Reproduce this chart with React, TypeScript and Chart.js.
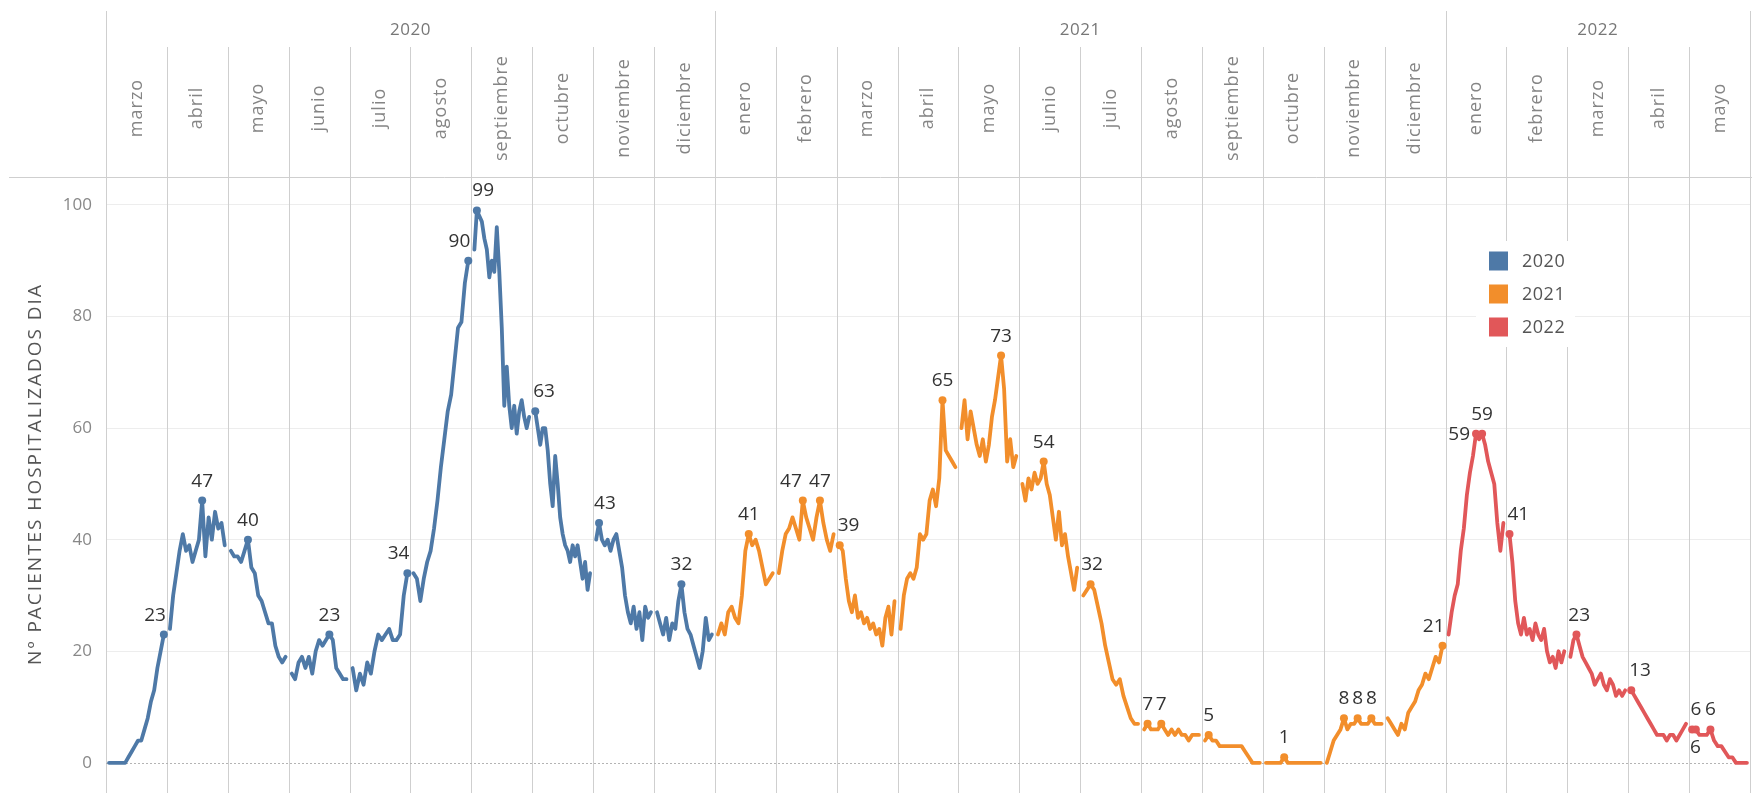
import React, { useEffect, useRef } from "react";
import { Chart, registerables } from "chart.js";

Chart.register(...registerables);

// ---------- data ----------
const yearLabels = ["2020", "2021", "2022"];
const yearColors = ["#4e79a7", "#f28e2b", "#e15759"];
const monthNames = [
  "enero", "febrero", "marzo", "abril", "mayo", "junio",
  "julio", "agosto", "septiembre", "octubre", "noviembre", "diciembre",
];
const yTickValues = [0, 20, 40, 60, 80, 100];
const yAxisTitle = "Nº PACIENTES HOSPITALIZADOS DIA";

// daily hospitalised patients, sampled through each month
const mar2020 = [0, 0, 0, 0, 0, 0, 1, 2, 3, 4, 4, 6, 8, 11, 13, 17, 20, 23];
const abr2020 = [24, 30, 34, 38, 41, 38, 39, 36, 38, 40, 47, 37, 44, 40, 45, 42, 43, 39];
const may2020 = [38, 37, 37, 36, 38, 40, 35, 34, 30, 29, 27, 25, 25, 21, 19, 18, 19];
const jun2020 = [16, 15, 18, 19, 17, 19, 16, 20, 22, 21, 22, 23, 22, 17, 16, 15, 15];
const jul2020 = [17, 13, 16, 14, 18, 16, 20, 23, 22, 23, 24, 22, 22, 23, 30, 34];
const ago2020 = [34, 33, 29, 33, 36, 38, 42, 47, 53, 58, 63, 66, 72, 78, 79, 86, 90];
const sep2020 = [92, 99, 98, 97, 94, 92, 87, 90, 88, 96, 88, 78, 64, 71, 64, 60, 64, 59, 63, 65, 62, 60, 62];
const oct2020 = [63, 60, 57, 60, 60, 56, 50, 46, 55, 50, 44, 41, 39, 38, 36, 39, 37, 39, 36, 33, 36, 31, 34];
const nov2020 = [40, 43, 40, 39, 40, 38, 40, 41, 38, 35, 30, 27, 25, 28, 24, 27, 22, 28, 26, 27];
const dic2020 = [27, 25, 23, 26, 22, 25, 24, 29, 32, 27, 24, 23, 21, 19, 17, 20, 26, 22, 23];
const ene2021 = [23, 25, 23, 27, 28, 26, 25, 30, 38, 41, 39, 40, 38, 35, 32, 33, 34];
const feb2021 = [34, 38, 41, 42, 44, 42, 40, 47, 44, 42, 40, 44, 47, 43, 40, 38, 41];
const mar2021 = [39, 38, 33, 29, 27, 30, 26, 27, 25, 26, 24, 25, 23, 24, 21, 26, 28, 23, 29];
const abr2021 = [24, 30, 33, 34, 33, 35, 41, 40, 41, 47, 49, 46, 51, 65, 56, 55, 54, 53];
const may2021 = [60, 65, 58, 63, 60, 57, 55, 58, 54, 57, 62, 65, 69, 73, 67, 54, 58, 53, 55];
const jun2021 = [50, 47, 51, 49, 52, 50, 51, 54, 50, 48, 44, 40, 45, 39, 41, 37, 34, 31, 35];
const jul2021 = [30, 31, 32, 31, 28, 25, 21, 18, 15, 14, 15, 12, 10, 8, 7, 7];
const ago2021 = [6, 7, 6, 6, 6, 7, 6, 5, 6, 5, 6, 5, 5, 4, 5, 5, 5];
const sep2021 = [4, 5, 4, 4, 3, 3, 3, 3, 3, 3, 3, 2, 1, 0, 0, 0];
const oct2021 = [0, 0, 0, 0, 0, 1, 0, 0, 0, 0, 0, 0, 0, 0, 0, 0];
const nov2021 = [0, 2, 4, 5, 6, 8, 6, 7, 7, 8, 7, 7, 7, 8, 7, 7, 7];
const dic2021 = [8, 7, 6, 5, 7, 6, 9, 10, 11, 13, 14, 16, 15, 17, 19, 18, 21];
const ene2022 = [23, 27, 30, 32, 38, 42, 48, 52, 55, 59, 58, 59, 57, 54, 52, 50, 43, 38, 43];
const feb2022 = [41, 36, 29, 25, 23, 26, 23, 24, 22, 25, 23, 22, 24, 20, 18, 19, 17, 20, 18, 20];
const mar2022 = [19, 22, 23, 21, 19, 18, 17, 16, 14, 15, 16, 14, 13, 15, 14, 12, 13, 12, 13];
const abr2022 = [13, 12, 11, 10, 9, 8, 7, 6, 5, 5, 5, 4, 5, 5, 4, 5, 6, 7];
const may2022 = [6, 6, 5, 5, 5, 6, 4, 3, 3, 2, 1, 1, 0, 0, 0, 0];

const monthSeries = [
  { year: 0, month: 2, values: mar2020 },
  { year: 0, month: 3, values: abr2020 },
  { year: 0, month: 4, values: may2020 },
  { year: 0, month: 5, values: jun2020 },
  { year: 0, month: 6, values: jul2020 },
  { year: 0, month: 7, values: ago2020 },
  { year: 0, month: 8, values: sep2020 },
  { year: 0, month: 9, values: oct2020 },
  { year: 0, month: 10, values: nov2020 },
  { year: 0, month: 11, values: dic2020 },
  { year: 1, month: 0, values: ene2021 },
  { year: 1, month: 1, values: feb2021 },
  { year: 1, month: 2, values: mar2021 },
  { year: 1, month: 3, values: abr2021 },
  { year: 1, month: 4, values: may2021 },
  { year: 1, month: 5, values: jun2021 },
  { year: 1, month: 6, values: jul2021 },
  { year: 1, month: 7, values: ago2021 },
  { year: 1, month: 8, values: sep2021 },
  { year: 1, month: 9, values: oct2021 },
  { year: 1, month: 10, values: nov2021 },
  { year: 1, month: 11, values: dic2021 },
  { year: 2, month: 0, values: ene2022 },
  { year: 2, month: 1, values: feb2022 },
  { year: 2, month: 2, values: mar2022 },
  { year: 2, month: 3, values: abr2022 },
  { year: 2, month: 4, values: may2022 },
];

// ---------- layout / style ----------
const FONT = "'Open Sans', 'Noto Sans', sans-serif";
const PANE_PAD = 0.05;
const W = 1752;
const H = 793;

type Pt = { x: number; y: number | null };

// one dataset per year, with gaps between month panes
const monthPoints: { x: number; y: number; ds: number; idx: number }[][] = [];
const labeled = new Set<string>();
const datasetsData: Pt[][] = yearLabels.map(() => []);
monthSeries.forEach((ms, m) => {
  const arr = datasetsData[ms.year];
  const n = ms.values.length;
  const max = Math.max(...ms.values);
  const pts: { x: number; y: number; ds: number; idx: number }[] = [];
  ms.values.forEach((v, i) => {
    const x = m + PANE_PAD + ((1 - 2 * PANE_PAD) * i) / (n - 1);
    const idx = arr.length;
    arr.push({ x, y: v });
    pts.push({ x, y: v, ds: ms.year, idx });
    if (v === max) labeled.add(ms.year + ":" + idx);
  });
  arr.push({ x: m + 1, y: null });
  monthPoints.push(pts);
});

const setSpacing = (ctx: any, px: number) => {
  if ("letterSpacing" in ctx) ctx.letterSpacing = px + "px";
};

const panesPlugin = {
  id: "panes",
  beforeDatasetsDraw(chart: any) {
    const { ctx, chartArea, scales } = chart;
    const xs = scales.x;
    const ys = scales.y;
    ctx.save();
    ctx.strokeStyle = "#cfcfcf";
    ctx.lineWidth = 1;
    for (let k = 0; k <= monthSeries.length; k++) {
      const px = Math.round(xs.getPixelForValue(k)) + 0.5;
      const isYear =
        k === 0 || k === monthSeries.length || monthSeries[k].year !== monthSeries[k - 1].year;
      ctx.beginPath();
      ctx.moveTo(px, isYear ? 11 : 47);
      ctx.lineTo(px, chart.height);
      ctx.stroke();
    }
    const y0 = Math.round(ys.getPixelForValue(0)) + 0.5;
    ctx.setLineDash([2, 2]);
    ctx.strokeStyle = "#b4b4b4";
    ctx.beginPath();
    ctx.moveTo(chartArea.left, y0);
    ctx.lineTo(chartArea.right, y0);
    ctx.stroke();
    ctx.restore();
  },
  afterDatasetsDraw(chart: any) {
    const { ctx, scales } = chart;
    const xs = scales.x;
    const ys = scales.y;
    ctx.save();
    ctx.font = `19px ${FONT}`;
    ctx.fillStyle = "#333";
    ctx.textBaseline = "alphabetic";
    ctx.textAlign = "left";
    const placed: { x1: number; y1: number; x2: number; y2: number }[] = [];
    const overlaps = (a: any, b: any) => a.x1 < b.x2 && a.x2 > b.x1 && a.y1 < b.y2 && a.y2 > b.y1;
    const h = 13.5;
    const gap = 14;
    monthPoints.forEach((pts, m) => {
      const paneL = xs.getPixelForValue(m) + 1;
      const paneR = xs.getPixelForValue(m + 1) - 1;
      const px = pts.map((p) => ({ x: xs.getPixelForValue(p.x), y: ys.getPixelForValue(p.y) }));
      const lab = pts
        .map((p, i) => ({ p, i }))
        .filter(({ p }) => labeled.has(p.ds + ":" + p.idx))
        .reverse();
      const clampBox = (x1: number, w: number) => Math.min(Math.max(x1, paneL), paneR - w);
      lab.forEach(({ p, i }) => {
        const { x, y } = px[i];
        const text = String(p.y);
        const w = ctx.measureText(text).width;
        const ax = clampBox(x - w / 2, w);
        const cands = [
          { x1: ax, y1: y - gap - h, x2: ax + w, y2: y - gap, side: false },
          { x1: x - 1 - w, y1: y - gap - h, x2: x - 1, y2: y - gap, side: true },
          { x1: x - 6 - w, y1: y - h / 2, x2: x - 6, y2: y + h / 2, side: true },
          { x1: ax, y1: y + gap - 4, x2: ax + w, y2: y + gap - 4 + h, side: false },
        ];
        let chosen = cands[0];
        for (const c of cands) {
          if (placed.some((r) => overlaps(r, c))) continue;
          if (c.side) {
            if (c.x1 < paneL - 3) continue;
            if (px.some((q, j) => j !== i && q.x > c.x1 - 4 && q.x < c.x2 + 4 && q.y > c.y1 - 2 && q.y < c.y2 + 2))
              continue;
          }
          chosen = c;
          break;
        }
        placed.push(chosen);
        ctx.fillText(text, chosen.x1, chosen.y2);
      });
    });
    ctx.restore();
  },
  afterDraw(chart: any) {
    const { ctx, chartArea, scales } = chart;
    const xs = scales.x;
    ctx.save();
    // header bottom line
    ctx.strokeStyle = "#cfcfcf";
    ctx.lineWidth = 1;
    ctx.beginPath();
    ctx.moveTo(9, Math.round(chartArea.top) + 0.5);
    ctx.lineTo(chart.width, Math.round(chartArea.top) + 0.5);
    ctx.stroke();

    // year labels
    ctx.fillStyle = "#777";
    ctx.font = `17px ${FONT}`;
    ctx.textAlign = "center";
    ctx.textBaseline = "middle";
    setSpacing(ctx, 0.5);
    yearLabels.forEach((yl, yi) => {
      const ks = monthSeries.map((ms, k) => (ms.year === yi ? k : -1)).filter((k) => k >= 0);
      const a = xs.getPixelForValue(ks[0]);
      const b = xs.getPixelForValue(ks[ks.length - 1] + 1);
      ctx.fillText(yl, (a + b) / 2, 30);
    });

    // month labels (rotated)
    ctx.font = `18px ${FONT}`;
    ctx.fillStyle = "#858585";
    setSpacing(ctx, 1);
    monthSeries.forEach((ms, k) => {
      const cx = xs.getPixelForValue(k + 0.5);
      ctx.save();
      ctx.translate(cx, 108);
      ctx.rotate(-Math.PI / 2);
      ctx.fillText(monthNames[ms.month], 0, 0);
      ctx.restore();
    });

    // y-axis title
    ctx.font = `19px ${FONT}`;
    ctx.fillStyle = "#555";
    setSpacing(ctx, 2);
    ctx.save();
    ctx.translate(36, 474);
    ctx.rotate(-Math.PI / 2);
    ctx.fillText(yAxisTitle, 0, 0);
    ctx.restore();
    setSpacing(ctx, 0);

    // legend
    ctx.fillStyle = "#fff";
    ctx.fillRect(1476, 241, 99, 106);
    ctx.font = `18px ${FONT}`;
    ctx.textAlign = "left";
    setSpacing(ctx, 0.5);
    yearLabels.forEach((yl, yi) => {
      const cy = 261 + yi * 33;
      ctx.fillStyle = yearColors[yi];
      ctx.fillRect(1489, cy - 9.5, 19, 19);
      ctx.fillStyle = "#555";
      ctx.fillText(yl, 1522, cy + 1);
    });
    ctx.restore();
  },
};

export default function App() {
  const ref = useRef<HTMLCanvasElement>(null);
  useEffect(() => {
    if (!ref.current) return;
    const chart = new Chart(ref.current, {
      type: "line",
      data: {
        datasets: yearLabels.map((yl, yi) => ({
          label: yl,
          data: datasetsData[yi] as any,
          borderColor: yearColors[yi],
          backgroundColor: yearColors[yi],
          pointBackgroundColor: yearColors[yi],
          pointBorderWidth: 0,
          borderWidth: 3.8,
          borderJoinStyle: "round" as const,
          borderCapStyle: "round" as const,
          tension: 0,
          spanGaps: false,
          pointRadius: (c: any) => (labeled.has(yi + ":" + c.dataIndex) ? 4 : 0),
          pointHoverRadius: 0,
        })),
      },
      options: {
        animation: false,
        responsive: false,
        devicePixelRatio: 1,
        layout: { padding: { top: 177, right: 2, left: 0, bottom: 0 } },
        plugins: { legend: { display: false }, tooltip: { enabled: false } },
        events: [],
        scales: {
          x: { type: "linear", min: 0, max: monthSeries.length, display: false },
          y: {
            min: -5.4,
            max: 105,
            afterBuildTicks: (s: any) => {
              s.ticks = yTickValues.map((v) => ({ value: v }));
            },
            afterFit: (s: any) => {
              s.width = 106;
              s.paddingTop = 0;
              s.paddingBottom = 0;
            },
            grid: {
              color: (c: any) => (c.tick && c.tick.value === 0 ? "rgba(0,0,0,0)" : "#ededed"),
              drawTicks: false,
              lineWidth: 1,
            },
            border: { display: false },
            ticks: { color: "#888", font: { family: FONT, size: 17 }, padding: 14 },
            title: { display: false },
          },
        },
      },
      plugins: [panesPlugin],
    });
    return () => chart.destroy();
  }, []);
  return (
    <div style={{ position: "absolute", left: 0, top: 0, width: W, height: H, background: "#fff" }}>
      <canvas ref={ref} width={W} height={H} style={{ display: "block" }} />
    </div>
  );
}
